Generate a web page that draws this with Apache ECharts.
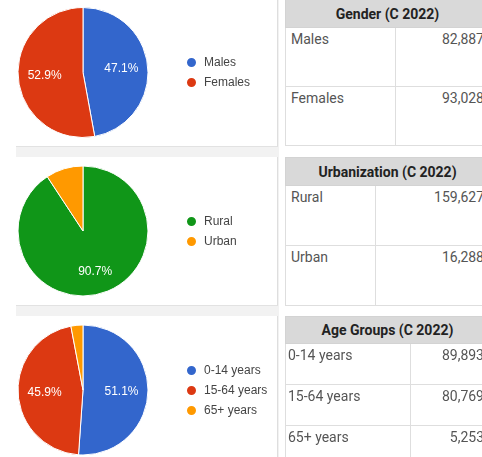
<!DOCTYPE html>
<html>
<head>
<meta charset="utf-8">
<script src="https://cdn.jsdelivr.net/npm/echarts@6/dist/echarts.min.js"></script>
<style>
html, body { margin: 0; padding: 0; background: #fff; width: 482px; height: 457px; overflow: hidden; position: relative; font-family: Roboto, Arial, sans-serif; }
.band { position: absolute; left: 16px; width: 263px; top: 0; height: 457px; background: #f2f2f2; }
.panel { position: absolute; left: 16px; width: 261px; background: #fff; border-right: 1px solid #dedede; border-bottom: 1px solid #e2e2e2; }
#chart { position: absolute; left: 0; top: 0; width: 482px; height: 457px; z-index: 2; }
table { position: absolute; left: 285px; width: 205px; border-collapse: collapse; table-layout: fixed; background: #fff; z-index: 3; }
th { background: #d9d9d9; color: #222; font-weight: bold; font-size: 14px; padding: 0; border: 1px solid #d3d3d3; text-align: center; }
td { border: 1px solid #dedede; font-size: 14px; color: #555; vertical-align: top; padding: 3px 5px; white-space: nowrap; overflow: hidden; }
td.v { text-align: right; padding-right: 5px; }
</style>
</head>
<body>
<div class="band"></div>
<div class="panel" style="top:-10px;height:156px"></div>
<div class="panel" style="top:157px;height:148px"></div>
<div class="panel" style="top:316px;height:160px"></div>
<div id="chart"></div>
<script>
var genderNames = ['Males', 'Females'];
var genderValues = [82887, 93028];
var urbanNames = ['Rural', 'Urban'];
var urbanValues = [159627, 16288];
var ageNames = ['0-14 years', '15-64 years', '65+ years'];
var ageValues = [89893, 80769, 5253];
var tableTitles = ['Gender (C 2022)', 'Urbanization (C 2022)', 'Age Groups (C 2022)'];

var genderColors = ['#3366cc', '#dc3912'];
var urbanColors = ['#109618', '#ff9900'];
var ageColors = ['#3366cc', '#dc3912', '#ff9900'];

var chart = echarts.init(document.getElementById('chart'));

function toData(names, values, colors) {
    return names.map(function (n, i) {
        return { name: n, value: values[i], itemStyle: { color: colors[i] } };
    });
}

// colored pie + transparent copy that only carries the labels (pushes them outward a bit)
function pieSeries(names, values, colors, cy, r0) {
    return [
        {
            type: 'pie',
            center: [83, cy],
            radius: [0, 65],
            startAngle: 90,
            silent: true,
            label: { show: false },
            labelLine: { show: false },
            itemStyle: { borderColor: '#fff', borderWidth: 1 },
            data: toData(names, values, colors)
        },
        {
            type: 'pie',
            center: [83, cy],
            radius: [r0, 65],
            startAngle: 90,
            silent: true,
            itemStyle: { color: 'rgba(0,0,0,0)' },
            labelLine: { show: false },
            label: {
                show: true,
                position: 'inside',
                color: '#fff',
                fontSize: 12,
                fontFamily: 'Arial, "Liberation Sans", sans-serif',
                formatter: function (p) {
                    return p.percent >= 10 ? p.percent.toFixed(1) + '%' : '';
                }
            },
            data: names.map(function (n, i) { return { name: n, value: values[i] }; })
        }
    ];
}

function legend(names, top) {
    return {
        orient: 'vertical',
        left: 185,
        top: top,
        padding: 0,
        icon: 'circle',
        itemWidth: 11,
        itemHeight: 11,
        itemGap: 7,
        selectedMode: false,
        data: names,
        textStyle: {
            fontSize: 12,
            lineHeight: 12,
            color: '#444',
            fontFamily: 'Arial, "Liberation Sans", sans-serif',
            padding: [0, 0, 0, 2]
        }
    };
}

var option = {
    animation: false,
    legend: [
        legend(genderNames, 56),
        legend(urbanNames, 215),
        legend(ageNames, 364)
    ],
    series: [].concat(
        pieSeries(genderNames, genderValues, genderColors, 72.5, 6),
        pieSeries(urbanNames, urbanValues, urbanColors, 231, 14),
        pieSeries(ageNames, ageValues, ageColors, 390, 6)
    )
};
chart.setOption(option);

// tables on the right
var tables = [
    { title: tableTitles[0], names: genderNames, values: genderValues, top: -1, col: 110, head: 28, row: 59, pad: 5 },
    { title: tableTitles[1], names: urbanNames, values: urbanValues, top: 157, col: 90, head: 28, row: 60, pad: 5 },
    { title: tableTitles[2], names: ageNames, values: ageValues, top: 316, col: 125, head: 27, row: 41, pad: 2 }
];
tables.forEach(function (t) {
    var html = '<colgroup><col style="width:' + t.col + 'px"><col></colgroup>';
    html += '<tr style="height:' + t.head + 'px"><th colspan="2">' + t.title + '</th></tr>';
    t.names.forEach(function (n, i) {
        html += '<tr style="height:' + t.row + 'px"><td style="padding-left:' + t.pad + 'px">' + n +
            '</td><td class="v">' + t.values[i].toLocaleString('en-US') + '</td></tr>';
    });
    var el = document.createElement('table');
    el.style.top = t.top + 'px';
    el.innerHTML = html;
    document.body.appendChild(el);
});
</script>
</body>
</html>
